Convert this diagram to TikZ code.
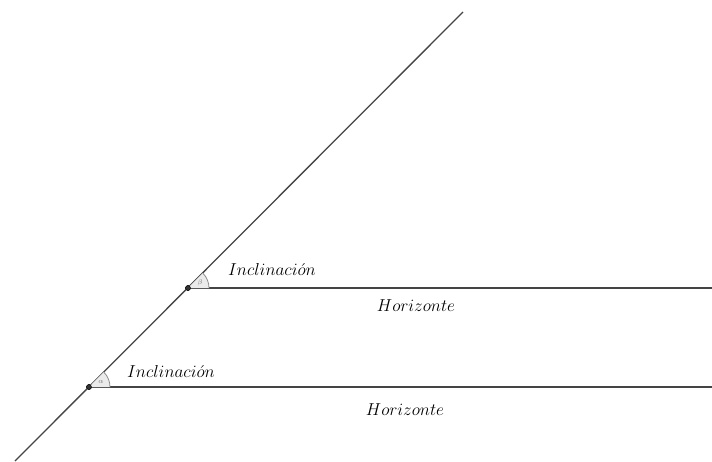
\documentclass[tikz,border=0pt]{standalone}
\usepackage{amsmath,amssymb}
\usepackage{xcolor}
\usepackage{tikz}
\usetikzlibrary{angles,quotes,positioning,calc}
\definecolor{linegray}{HTML}{444444}

\begin{document}
\begin{tikzpicture}[
    x=1pt, y=-1pt,
    axisline/.style={draw=linegray, line width=1.3pt},
    pointdot/.style={circle, fill=black!80, draw=black, inner sep=0pt, minimum size=5pt},
    anglemark/.style={draw=black!45, fill=black!8, line width=0.8pt, angle radius=21pt},
    anglelbl/.style={font=\fontsize{7}{8}\selectfont, text=black!55},
    lbl/.style={font=\fontsize{16}{19}\selectfont, inner sep=0pt}
]
\useasboundingbox (0,0) rectangle (712,461);

\coordinate (low) at (15,461);
\coordinate (high) at (463,12);
\node[pointdot] (A) at (89,387) {};
\node[pointdot] (B) at (188,288) {};
\coordinate (hA) at (712,387);
\coordinate (hB) at (712,288);

\draw[axisline] (low) -- (high);
\draw[axisline] (A.center) -- (hA);
\draw[axisline] (B.center) -- (hB);

\pic[anglemark] {angle = hA--A--high};
\pic[anglemark] {angle = hB--B--high};
\node[anglelbl] (alf) at (101,381.5) {$\alpha$};
\node[anglelbl] (bet) at (200,283) {$\beta$};
\node[pointdot] at (A) {};
\node[pointdot] at (B) {};

\node[lbl] (incA) at (171,371) {$Inclinaci\acute{o}n$};
\node[lbl] (incB) at (272,269) {$Inclinaci\acute{o}n$};
\node[lbl] (horA) at (405,410) {$Horizonte$};
\node[lbl] (horB) at (416,306) {$Horizonte$};
\end{tikzpicture}
\end{document}
